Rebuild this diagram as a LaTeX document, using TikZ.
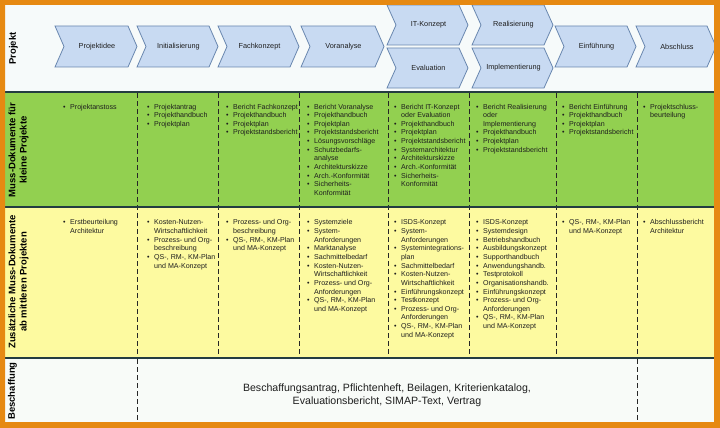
\documentclass[tikz,border=0pt]{standalone}
\usepackage{fontspec}
\setmainfont{Liberation Sans}
\definecolor{frameorange}{RGB}{230,137,18}
\definecolor{rowtop}{RGB}{246,250,250}
\definecolor{chevfill}{RGB}{200,218,242}
\definecolor{chevdraw}{RGB}{105,135,175}
\definecolor{mussgreen}{RGB}{146,208,80}
\definecolor{zusyellow}{RGB}{253,250,160}
\definecolor{beschbg}{RGB}{248,251,248}
\definecolor{sepline}{RGB}{35,60,65}
\definecolor{txt}{RGB}{30,30,30}
\newcommand\bul{\makebox[7pt][l]{\textbullet}}
\newcommand\ind{\hspace*{7pt}}
\newcommand\lst[1]{\begin{tabular}[t]{@{}l@{}}#1\end{tabular}}
\tikzset{
  chevstyle/.style={fill=chevfill, draw=chevdraw, line width=0.8pt, line join=miter},
  chevlabel/.style={font=\fontsize{7.3}{8}\selectfont, text=txt, inner sep=0pt},
  cell/.style={font=\fontsize{7.1}{8.65}\selectfont, text=txt, inner sep=0pt, anchor=base west},
  rowlabel/.style={font=\fontsize{9.5}{11.3}\selectfont\bfseries, text=black, rotate=90, align=center, inner sep=0pt},
  sep/.style={draw=sepline, line width=1.3pt},
  colsep/.style={draw=black!85, line width=0.9pt, dash pattern=on 5pt off 3pt},
}
\newcommand\chevron[6]{%
  \path[chevstyle] (#2,#4) -- (#3-9,#4) -- (#3,{(#4+#5)/2}) -- (#3-9,#5) -- (#2,#5) -- (#2+9,{(#4+#5)/2}) -- cycle;
  \node[chevlabel] (#1) at ({(#2+#3)/2+1},{(#4+#5)/2}) {#6};
}
\begin{document}
\begin{tikzpicture}[x=1pt,y=-1pt]
\useasboundingbox (0,0) rectangle (720,428);
% row backgrounds
\fill[rowtop] (0,0) rectangle (720,92);
\fill[mussgreen] (0,92) rectangle (720,207);
\fill[zusyellow] (0,207) rectangle (720,358);
\fill[beschbg] (0,358) rectangle (720,428);
% chevrons
\chevron{c1}{55}{137}{26}{67}{Projektidee}
\chevron{c2}{137}{218}{26}{67}{Initialisierung}
\chevron{c3}{218}{299}{26}{67}{Fachkonzept}
\chevron{c4}{301}{384}{26}{67}{Voranalyse}
\chevron{c5a}{387}{468}{5}{45}{IT-Konzept}
\chevron{c5b}{387}{468}{48}{88}{Evaluation}
\chevron{c6a}{472}{553}{5}{45}{Realisierung}
\chevron{c6b}{472}{553}{48}{88}{Implementierung}
\chevron{c7}{555}{636}{26}{67}{Einführung}
\chevron{c8}{636}{716}{26}{67}{Abschluss}
% column separators
\foreach \cx in {137.5,218.5,299.5,388,469,556,637} \draw[colsep] (\cx,93) -- (\cx,357);
\draw[colsep] (137.5,359) -- (137.5,422);
\draw[colsep] (637,359) -- (637,422);
% row separators
\draw[sep] (0,92) -- (720,92);
\draw[sep] (0,207) -- (720,207);
\draw[sep, line width=1.8pt] (0,358) -- (720,358);
% row labels
\node[rowlabel] (lp) at (13.5,48.5) {Projekt};
\node[rowlabel] (lg) at (18.5,150) {Muss-Dokumente für\\kleine Projekte};
\node[rowlabel] (ly) at (18.5,282) {Zusätzliche Muss-Dokumente\\ab mittleren Projekten};
\node[rowlabel] (lb) at (12.5,391) {Beschaffung};
% green row
\node[cell] (g1) at (63,109) {\lst{\bul Projektanstoss}};
\node[cell] (g2) at (147,109) {\lst{\bul Projektantrag\\\bul Projekthandbuch\\\bul Projektplan}};
\node[cell] (g3) at (226,109) {\lst{\bul Bericht Fachkonzept\\\bul Projekthandbuch\\\bul Projektplan\\\bul Projektstandsbericht}};
\node[cell] (g4) at (307,109) {\lst{\bul Bericht Voranalyse\\\bul Projekthandbuch\\\bul Projektplan\\\bul Projektstandsbericht\\\bul Lösungsvorschläge\\\bul Schutzbedarfs-\\\ind analyse\\\bul Architekturskizze\\\bul Arch.-Konformität\\\bul Sicherheits-\\\ind Konformität}};
\node[cell] (g5) at (394,109) {\lst{\bul Bericht IT-Konzept\\\ind oder Evaluation\\\bul Projekthandbuch\\\bul Projektplan\\\bul Projektstandsbericht\\\bul Systemarchitektur\\\bul Architekturskizze\\\bul Arch.-Konformität\\\bul Sicherheits-\\\ind Konformität}};
\node[cell] (g6) at (476,109) {\lst{\bul Bericht Realisierung\\\ind oder\\\ind Implementierung\\\bul Projekthandbuch\\\bul Projektplan\\\bul Projektstandsbericht}};
\node[cell] (g7) at (562,109) {\lst{\bul Bericht Einführung\\\bul Projekthandbuch\\\bul Projektplan\\\bul Projektstandsbericht}};
\node[cell] (g8) at (643,109) {\lst{\bul Projektschluss-\\\ind beurteilung}};
% yellow row
\node[cell] (y1) at (63,224.8) {\lst{\bul Erstbeurteilung\\\ind Architektur}};
\node[cell] (y2) at (147,224.8) {\lst{\bul Kosten-Nutzen-\\\ind Wirtschaftlichkeit\\\bul Prozess- und Org-\\\ind beschreibung\\\bul QS-, RM-, KM-Plan\\\ind und MA-Konzept}};
\node[cell] (y3) at (226,224.8) {\lst{\bul Prozess- und Org-\\\ind beschreibung\\\bul QS-, RM-, KM-Plan\\\ind und MA-Konzept}};
\node[cell] (y4) at (307,224.8) {\lst{\bul Systemziele\\\bul System-\\\ind Anforderungen\\\bul Marktanalyse\\\bul Sachmittelbedarf\\\bul Kosten-Nutzen-\\\ind Wirtschaftlichkeit\\\bul Prozess- und Org-\\\ind Anforderungen\\\bul QS-, RM-, KM-Plan\\\ind und MA-Konzept}};
\node[cell] (y5) at (394,224.8) {\lst{\bul ISDS-Konzept\\\bul System-\\\ind Anforderungen\\\bul Systemintegrations-\\\ind plan\\\bul Sachmittelbedarf\\\bul Kosten-Nutzen-\\\ind Wirtschaftlichkeit\\\bul Einführungskonzept\\\bul Testkonzept\\\bul Prozess- und Org-\\\ind Anforderungen\\\bul QS-, RM-, KM-Plan\\\ind und MA-Konzept}};
\node[cell] (y6) at (476,224.8) {\lst{\bul ISDS-Konzept\\\bul Systemdesign\\\bul Betriebshandbuch\\\bul Ausbildungskonzept\\\bul Supporthandbuch\\\bul Anwendungshandb.\\\bul Testprotokoll\\\bul Organisationshandb.\\\bul Einführungskonzept\\\bul Prozess- und Org-\\\ind Anforderungen\\\bul QS-, RM-, KM-Plan\\\ind und MA-Konzept}};
\node[cell] (y7) at (562,224.8) {\lst{\bul QS-, RM-, KM-Plan\\\ind und MA-Konzept}};
\node[cell] (y8) at (643,224.8) {\lst{\bul Abschlussbericht\\\ind Architektur}};
% Beschaffung
\node[font=\fontsize{10.6}{12.6}\selectfont, text=txt, align=center, inner sep=0pt] (bt) at (387,395) {Beschaffungsantrag, Pflichtenheft, Beilagen, Kriterienkatalog,\\Evaluationsbericht, SIMAP-Text, Vertrag};
% orange frame
\fill[frameorange, even odd rule] (0,0) rectangle (720,428) (5,5) rectangle (714,422);
\end{tikzpicture}
\end{document}
